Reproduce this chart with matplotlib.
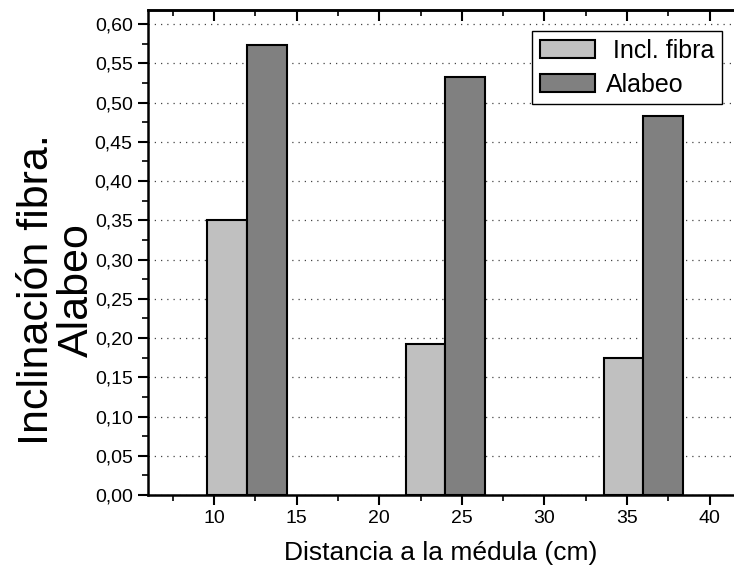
import numpy as np
import matplotlib
matplotlib.use('Agg')
import matplotlib.pyplot as plt
from matplotlib.ticker import MultipleLocator, FuncFormatter

# Datos
posiciones = [12, 24, 36]
incl_fibra = [0.351, 0.192, 0.174]
alabeo = [0.574, 0.533, 0.483]
etiquetas = [' Incl. fibra', 'Alabeo']

ancho = 2.4
plt.rcParams['font.family'] = ['Liberation Sans', 'DejaVu Sans']

fig = plt.figure(figsize=(7.34, 5.75), dpi=100)
ax = fig.add_axes([148 / 734, 1 - 495 / 575, 1 - 148 / 734, (495 - 10) / 575])

ax.bar(posiciones, incl_fibra, width=-ancho, align='edge', color='#c0c0c0',
       edgecolor='black', linewidth=1.5, label=etiquetas[0], zorder=3)
ax.bar(posiciones, alabeo, width=ancho, align='edge', color='#808080',
       edgecolor='black', linewidth=1.5, label=etiquetas[1], zorder=3)

ax.set_xlim(6, 41.48)
ax.set_ylim(0, 0.618)

ax.xaxis.set_major_locator(MultipleLocator(5))
ax.xaxis.set_minor_locator(MultipleLocator(2.5))
ax.yaxis.set_major_locator(MultipleLocator(0.05))
ax.yaxis.set_minor_locator(MultipleLocator(0.025))
ax.yaxis.set_major_formatter(FuncFormatter(lambda v, p: f'{v:.2f}'.replace('.', ',')))

ax.tick_params(which='major', direction='out', length=7, width=1.5, labelsize=14, pad=4)
ax.tick_params(which='minor', direction='out', length=4, width=1.2)

# Eje superior con marcas hacia dentro
top = ax.secondary_xaxis('top')
top.xaxis.set_major_locator(MultipleLocator(5))
top.xaxis.set_minor_locator(MultipleLocator(2.5))
top.tick_params(which='major', direction='in', length=8, width=1.5, labeltop=False)
top.tick_params(which='minor', direction='in', length=4, width=1.2)
top.spines['top'].set_linewidth(1.8)

for s in ['left', 'bottom', 'top']:
    ax.spines[s].set_linewidth(1.8)
ax.spines['right'].set_visible(False)

ax.yaxis.grid(True, linestyle=(0, (1, 4)), linewidth=0.9, color='#444444', zorder=0)
ax.set_axisbelow(True)

ax.set_xlabel('Distancia a la médula (cm)', fontsize=19, labelpad=10)
fig.text(0.077, 0.496, 'Inclinación fibra.\nAlabeo', rotation=90, fontsize=31,
         ha='center', va='center', linespacing=1.0, multialignment='center')

leg = ax.legend(loc='upper left', bbox_to_anchor=(532 / 734, 1 - 31 / 575),
                bbox_transform=fig.transFigure, frameon=True, fancybox=False,
                edgecolor='black', framealpha=1, borderaxespad=0,
                prop={'size': 18}, handlelength=2.2, handleheight=0.7,
                handletextpad=0.45, labelspacing=0.4, borderpad=0.3)
leg.get_frame().set_linewidth(1.0)
leg.set_zorder(5)

plt.savefig('out.png', dpi=100)
